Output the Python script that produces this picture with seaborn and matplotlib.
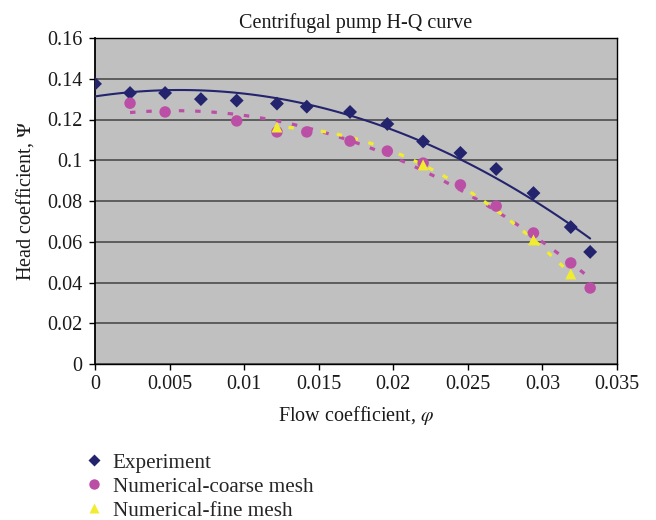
import matplotlib
matplotlib.use("Agg")
import matplotlib.pyplot as plt
import seaborn as sns
import pandas as pd
from matplotlib.lines import Line2D

# ---- data ----
exp_x = [0.0, 0.00235, 0.0047, 0.0071, 0.0095, 0.0122, 0.0142, 0.0171, 0.0196, 0.0220, 0.0245, 0.0269, 0.0294, 0.0319, 0.0332]
exp_y = [0.1375, 0.1330, 0.1330, 0.1300, 0.1293, 0.1278, 0.1263, 0.1237, 0.1178, 0.1092, 0.1036, 0.0957, 0.0839, 0.0672, 0.0550]

coarse_x = [0.00235, 0.0047, 0.0095, 0.0122, 0.0142, 0.0171, 0.0196, 0.0220, 0.0245, 0.0269, 0.0294, 0.0319, 0.0332]
coarse_y = [0.1280, 0.1237, 0.1193, 0.1139, 0.1139, 0.1094, 0.1045, 0.0986, 0.0879, 0.0775, 0.0643, 0.0496, 0.0373]

fine_x = [0.0122, 0.0220, 0.0294, 0.0319]
fine_y = [0.1163, 0.0977, 0.0609, 0.0442]

x_ticks = [0, 0.005, 0.01, 0.015, 0.02, 0.025, 0.03, 0.035]
x_tick_labels = ["0", "0.005", "0.01", "0.015", "0.02", "0.025", "0.03", "0.035"]
y_ticks = [0, 0.02, 0.04, 0.06, 0.08, 0.1, 0.12, 0.14, 0.16]
y_tick_labels = ["0", "0.02", "0.04", "0.06", "0.08", "0.1", "0.12", "0.14", "0.16"]

labels = ["Experiment", "Numerical-coarse mesh", "Numerical-fine mesh"]

# ---- style ----
sns.set_theme(style="white")
plt.rcParams["font.family"] = ["Liberation Serif", "DejaVu Serif"]
plt.rcParams["mathtext.fontset"] = "stix"

c_exp = "#23236e"
c_coarse = "#bb4fa6"
c_fine = "#f2ec2e"
txt = "#1a1a1a"
FS = 14.5

fig = plt.figure(figsize=(6.56, 5.2), dpi=100)
ax = fig.add_axes([95/656, 1-364/520, (617-95)/656, (364-38)/520])
ax.set_facecolor("#c0c0c0")

df_exp = pd.DataFrame({"x": exp_x, "y": exp_y})
df_coarse = pd.DataFrame({"x": coarse_x, "y": coarse_y})
df_fine = pd.DataFrame({"x": fine_x, "y": fine_y})

# trend lines
sns.regplot(data=df_exp, x="x", y="y", order=2, ci=None, scatter=False, ax=ax,
            line_kws=dict(color=c_exp, lw=1.5, zorder=3))
sns.regplot(data=df_coarse, x="x", y="y", order=2, ci=None, scatter=False, ax=ax,
            line_kws=dict(color=c_coarse, lw=2.3, ls=(0, (1.7, 3.4)), zorder=3))
sns.regplot(data=df_fine, x="x", y="y", order=2, ci=None, scatter=False, ax=ax,
            line_kws=dict(color=c_fine, lw=2.3, ls=(1.5, (1.7, 3.4)), zorder=3))

# markers
sns.scatterplot(data=df_exp, x="x", y="y", marker="D", s=50, color=c_exp,
                edgecolor="none", ax=ax, zorder=4)
sns.scatterplot(data=df_coarse, x="x", y="y", marker="o", s=68, color=c_coarse,
                edgecolor="none", ax=ax, zorder=4)
sns.scatterplot(data=df_fine, x="x", y="y", marker="^", s=62, color=c_fine,
                edgecolor="none", ax=ax, zorder=5)

ax.set_xlim(0, 0.035)
ax.set_ylim(0, 0.16)
ax.set_xticks(x_ticks)
ax.set_xticklabels(x_tick_labels)
ax.set_yticks(y_ticks)
ax.set_yticklabels(y_tick_labels)
ax.grid(axis="y", color="#555555", lw=1.3)
ax.set_axisbelow(True)
for s in ax.spines.values():
    s.set_color("black")
    s.set_linewidth(1.0)
ax.spines["left"].set_linewidth(1.3)
ax.tick_params(axis="both", which="major", direction="out", length=4, width=1,
               color="black", labelsize=FS, labelcolor=txt, bottom=True, left=True)
ax.tick_params(axis="x", pad=4)
ax.tick_params(axis="y", pad=5)

ax.set_title("Centrifugal pump H-Q curve", fontsize=FS, color=txt, pad=7)
ax.set_xlabel(r"Flow coefficient, $\varphi$", fontsize=FS, color=txt, labelpad=7)
ax.set_ylabel(r"Head coefficient, $\Psi$", fontsize=FS, color=txt, labelpad=8)

handles = [
    Line2D([], [], ls="none", marker="D", ms=6.5, color=c_exp, mec="none"),
    Line2D([], [], ls="none", marker="o", ms=7.5, color=c_coarse, mec="none"),
    Line2D([], [], ls="none", marker="^", ms=7.5, color=c_fine, mec="none"),
]
fig.legend(handles, labels, loc="upper left", bbox_to_anchor=(86/656, 1-453/520),
           frameon=False, fontsize=15.2, handlelength=0.75, handletextpad=0.52,
           labelspacing=0.2, borderaxespad=0, borderpad=0)

fig.savefig("out.png", dpi=100)
